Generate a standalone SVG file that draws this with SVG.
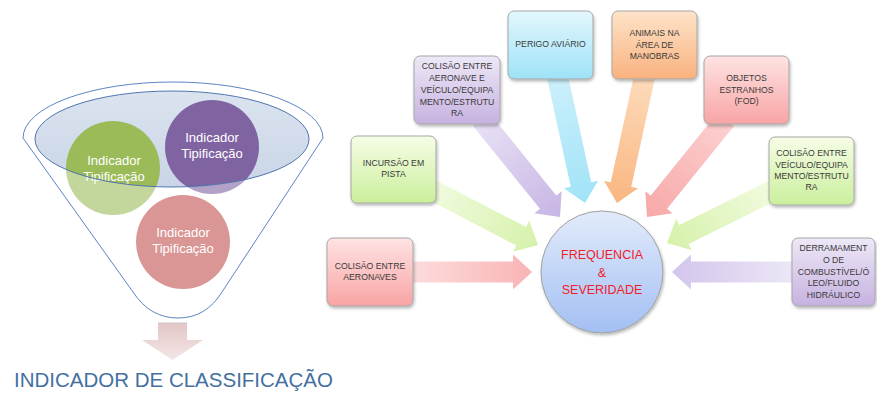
<svg xmlns="http://www.w3.org/2000/svg" width="877" height="395" viewBox="0 0 877 395">
<defs>
<style>
.bt{font-family:"Liberation Sans",Arial,sans-serif;font-size:8.7px;fill:#3a3a3a;text-anchor:middle}
.ct{font-family:"Liberation Sans",Arial,sans-serif;font-size:13px;fill:#ffffff;text-anchor:middle}
.box{stroke:#a6a6a6;stroke-width:1}
.ctr{font-family:"Liberation Sans",Arial,sans-serif;font-size:12.5px;fill:#f0202a;text-anchor:middle}
</style>
<filter id="sh" x="-20%" y="-20%" width="140%" height="140%"><feDropShadow dx="1" dy="2" stdDeviation="1.5" flood-color="#000" flood-opacity="0.28"/></filter>
<linearGradient id="gPink" x1="0" y1="0" x2="0" y2="1"><stop offset="0" stop-color="#ffe3e3"/><stop offset="1" stop-color="#f8a4a4"/></linearGradient>
<linearGradient id="gGreen" x1="0" y1="0" x2="0" y2="1"><stop offset="0" stop-color="#f6fde6"/><stop offset="1" stop-color="#cbef9c"/></linearGradient>
<linearGradient id="gPurple" x1="0" y1="0" x2="0" y2="1"><stop offset="0" stop-color="#eee8f7"/><stop offset="1" stop-color="#c6b2e0"/></linearGradient>
<linearGradient id="gCyan" x1="0" y1="0" x2="0" y2="1"><stop offset="0" stop-color="#e3f7fd"/><stop offset="1" stop-color="#9ee2f7"/></linearGradient>
<linearGradient id="gOrange" x1="0" y1="0" x2="0" y2="1"><stop offset="0" stop-color="#fee3c9"/><stop offset="1" stop-color="#f9b27e"/></linearGradient>
<linearGradient id="gCenter" x1="0" y1="0" x2="0" y2="1"><stop offset="0" stop-color="#e2ebfb"/><stop offset="1" stop-color="#a3bff3"/></linearGradient>
<linearGradient id="aPink" x1="0" y1="0" x2="1" y2="0"><stop offset="0" stop-color="#fddede"/><stop offset="1" stop-color="#f9b4b4"/></linearGradient>
<linearGradient id="aPink2" x1="0" y1="0" x2="1" y2="0"><stop offset="0" stop-color="#fcd0d0"/><stop offset="1" stop-color="#f8a8a8"/></linearGradient>
<linearGradient id="aGreen" x1="0" y1="0" x2="1" y2="0"><stop offset="0" stop-color="#f1fbdf"/><stop offset="1" stop-color="#d6f1ab"/></linearGradient>
<linearGradient id="aPurple" x1="0" y1="0" x2="1" y2="0"><stop offset="0" stop-color="#e8e1f5"/><stop offset="1" stop-color="#c7b5e4"/></linearGradient>
<linearGradient id="aCyan" x1="0" y1="0" x2="1" y2="0"><stop offset="0" stop-color="#cdf0fb"/><stop offset="1" stop-color="#a0e3f7"/></linearGradient>
<linearGradient id="aOrange" x1="0" y1="0" x2="1" y2="0"><stop offset="0" stop-color="#fddcbd"/><stop offset="1" stop-color="#f9b680"/></linearGradient>
<linearGradient id="aPurple2" x1="0" y1="0" x2="1" y2="0"><stop offset="0" stop-color="#eee8f7"/><stop offset="1" stop-color="#d2c5ec"/></linearGradient>
<linearGradient id="gEll" x1="0" y1="0" x2="0" y2="1"><stop offset="0" stop-color="#dbe3ef"/><stop offset="1" stop-color="#c9d5e6"/></linearGradient>
<linearGradient id="gDown" x1="0" y1="0" x2="0" y2="1"><stop offset="0" stop-color="#e4c6c6"/><stop offset="1" stop-color="#f3e6e6"/></linearGradient>
</defs>

<!-- Funnel -->
<g id="funnel">
<path d="M23,138 A150,56 0 0 1 323,138 L222,292 Q206,318 178,318 Q150,318 133,292 Z" fill="#ffffff"/>
<ellipse cx="172" cy="139" rx="137" ry="48" fill="url(#gEll)"/>
<g id="circle-green"><circle cx="113" cy="168" r="47" fill="#9bbb59"/><text class="ct" x="114" y="165">Indicador</text><text class="ct" x="114" y="181">Tipificação</text></g>
<g id="circle-purple"><circle cx="212" cy="147" r="47" fill="#8064a2"/><text class="ct" x="212" y="142">Indicador</text><text class="ct" x="212" y="158">Tipificação</text></g>
<g id="circle-red"><circle cx="183" cy="242" r="47" fill="#c0504d"/><text class="ct" x="183" y="237">Indicador</text><text class="ct" x="183" y="253">Tipificação</text></g>
<path d="M23,138 A150,56 0 0 1 323,138 L222,292 Q206,318 178,318 Q150,318 133,292 Z M35,139 A137,48 0 0 0 309,139 A137,48 0 0 0 35,139 Z" fill="#ffffff" fill-opacity="0.4" fill-rule="evenodd"/>
<ellipse cx="172" cy="139" rx="137" ry="48" fill="none" stroke="#4f75b0" stroke-width="1"/>
<path d="M23,138 A150,56 0 0 1 323,138 L222,292 Q206,318 178,318 Q150,318 133,292 Z" fill="none" stroke="#5b86c5" stroke-width="1"/>
<polygon points="158,323 187,323 187,340 203,340 172.5,360 142,340 158,340" fill="url(#gDown)"/>
<line x1="158" y1="323" x2="187" y2="323" stroke="#c8c8c8" stroke-width="1"/>
<text x="14" y="387" font-family="'Liberation Sans',Arial,sans-serif" font-size="20.5" fill="#44709f">INDICADOR DE CLASSIFICAÇÃO</text>
</g>

<!-- Connectors -->
<g id="connectors">
<g transform="translate(407,272) rotate(0)"><path d="M0,-10.5 H106 V-17.5 L125,0 L106,17.5 V10.5 H0 Z" fill="url(#aPink)"/></g>
<g transform="translate(430.7,189.2) rotate(27.5)"><path d="M0,-10.5 H102 V-17.5 L121,0 L102,17.5 V10.5 H0 Z" fill="url(#aGreen)"/></g>
<g transform="translate(481.2,119.3) rotate(51.1)"><path d="M0,-10.5 H106.5 V-17.5 L125.5,0 L106.5,17.5 V10.5 H0 Z" fill="url(#aPurple)"/></g>
<g transform="translate(556.7,73.1) rotate(77.7)"><path d="M0,-10.5 H114 V-17.5 L133,0 L114,17.5 V10.5 H0 Z" fill="url(#aCyan)"/></g>
<g transform="translate(645.3,73.1) rotate(102.3)"><path d="M0,-10.5 H114 V-17.5 L133,0 L114,17.5 V10.5 H0 Z" fill="url(#aOrange)"/></g>
<g transform="translate(725.8,119.3) rotate(128.9)"><path d="M0,-10.5 H106.5 V-17.5 L125.5,0 L106.5,17.5 V10.5 H0 Z" fill="url(#aPink2)"/></g>
<g transform="translate(775.4,189.3) rotate(153.7)"><path d="M0,-10.5 H102 V-17.5 L121,0 L102,17.5 V10.5 H0 Z" fill="url(#aGreen)"/></g>
<g transform="translate(798,272) rotate(180)"><path d="M0,-10.5 H107 V-17.5 L126,0 L107,17.5 V10.5 H0 Z" fill="url(#aPurple2)"/></g>
</g>

<!-- Center -->
<g id="center" filter="url(#sh)">
<circle cx="602" cy="272" r="61" fill="url(#gCenter)" stroke="#a0a0a0" stroke-width="1"/>
</g>
<g id="center-text">
<text class="ctr" x="602" y="258.5">FREQUENCIA</text>
<text class="ctr" x="602" y="276.5">&amp;</text>
<text class="ctr" x="602" y="293.5">SEVERIDADE</text>
</g>

<!-- Boxes -->
<g id="b-aeronaves"><rect class="box" x="327" y="238" width="86" height="68" rx="6" fill="url(#gPink)" filter="url(#sh)"/>
<text class="bt" x="370" y="269">COLISÃO ENTRE</text><text class="bt" x="370" y="280">AERONAVES</text></g>

<g id="b-incursao"><rect class="box" x="351" y="136" width="85" height="67" rx="6" fill="url(#gGreen)" filter="url(#sh)"/>
<text class="bt" x="393.5" y="166">INCURSÃO EM</text><text class="bt" x="393.5" y="177">PISTA</text></g>

<g id="b-colisao-aeronave-veiculo"><rect class="box" x="414" y="56" width="86" height="68" rx="6" fill="url(#gPurple)" filter="url(#sh)"/>
<text class="bt" x="457" y="69">COLISÃO ENTRE</text><text class="bt" x="457" y="81">AERONAVE E</text><text class="bt" x="457" y="93">VEÍCULO/EQUIPA</text><text class="bt" x="457" y="105">MENTO/ESTRUTU</text><text class="bt" x="457" y="116">RA</text></g>

<g id="b-perigo"><rect class="box" x="508" y="11" width="85" height="68" rx="6" fill="url(#gCyan)" filter="url(#sh)"/>
<text class="bt" x="550.5" y="47">PERIGO AVIÁRIO</text></g>

<g id="b-animais"><rect class="box" x="612" y="11" width="85" height="68" rx="6" fill="url(#gOrange)" filter="url(#sh)"/>
<text class="bt" x="654.5" y="36">ANIMAIS NA</text><text class="bt" x="654.5" y="48">ÁREA DE</text><text class="bt" x="654.5" y="59">MANOBRAS</text></g>

<g id="b-objetos"><rect class="box" x="704" y="56" width="85" height="68" rx="6" fill="url(#gPink)" filter="url(#sh)"/>
<text class="bt" x="746.5" y="81">OBJETOS</text><text class="bt" x="746.5" y="93">ESTRANHOS</text><text class="bt" x="746.5" y="104">(FOD)</text></g>

<g id="b-colisao-veiculo"><rect class="box" x="769" y="137" width="85" height="68" rx="6" fill="url(#gGreen)" filter="url(#sh)"/>
<text class="bt" x="811.5" y="156">COLISÃO ENTRE</text><text class="bt" x="811.5" y="168">VEÍCULO/EQUIPA</text><text class="bt" x="811.5" y="179">MENTO/ESTRUTU</text><text class="bt" x="811.5" y="190">RA</text></g>

<g id="b-derramamento"><rect class="box" x="792" y="238" width="83" height="68" rx="6" fill="url(#gPurple)" filter="url(#sh)"/>
<text class="bt" x="833.5" y="251">DERRAMAMENT</text><text class="bt" x="833.5" y="263">O DE</text><text class="bt" x="833.5" y="275">COMBUSTÍVEL/Ó</text><text class="bt" x="833.5" y="286">LEO/FLUIDO</text><text class="bt" x="833.5" y="298">HIDRÁULICO</text></g>
</svg>
